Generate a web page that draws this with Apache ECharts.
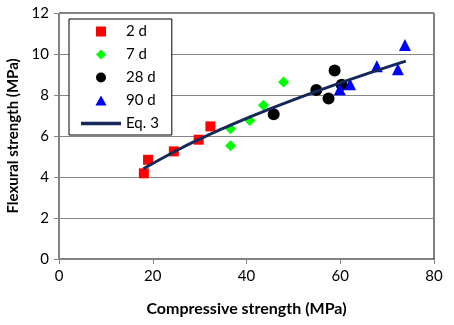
<!DOCTYPE html>
<html><head><meta charset="utf-8">
<script src="https://cdn.jsdelivr.net/npm/echarts@6/dist/echarts.min.js"></script>
<style>html,body{margin:0;padding:0;background:#fff}#c{width:454px;height:325px}</style>
</head><body><div id="c"></div>
<script>
const d2 = [[18.1,4.18],[19.0,4.84],[24.5,5.25],[29.8,5.82],[32.3,6.47]];
const d7 = [[36.6,6.35],[36.6,5.52],[40.7,6.76],[43.6,7.5],[47.9,8.64]];
const d28 = [[45.8,7.06],[54.9,8.24],[57.5,7.83],[58.8,9.2],[60.3,8.5]];
const d90 = [[59.9,8.28],[62.1,8.53],[67.8,9.4],[72.3,9.26],[73.8,10.44]];
const eqX = [18,25,30,35,40,45,50,55,60,65,70,74];
const eqY = [4.40,5.28,5.85,6.37,6.86,7.32,7.76,8.18,8.59,8.98,9.36,9.65];
const xTicks = [0,20,40,60,80];
const yTicks = [0,2,4,6,8,10,12];

const font = 'Lato, "Open Sans", sans-serif';
const lineColor = '#14285a';
const chart = echarts.init(document.getElementById('c'), null, {renderer:'canvas'});
chart.setOption({
  animation:false,
  grid:{left:59,right:20,top:13,bottom:66,show:true,borderColor:'#000',borderWidth:1,
    containLabel:false,outerBoundsMode:'none'},
  xAxis:{type:'value',min:xTicks[0],max:xTicks[xTicks.length-1],interval:20,
    name:'Compressive strength (MPa)',nameLocation:'middle',nameGap:42,
    nameTextStyle:{fontFamily:font,fontWeight:'bold',fontSize:16,color:'#000'},
    axisLine:{show:true,lineStyle:{color:'#868686'}},
    axisTick:{show:true,length:5,lineStyle:{color:'#868686'}},
    axisLabel:{fontFamily:font,fontSize:15,color:'#000',margin:10},
    splitLine:{show:false}},
  yAxis:{type:'value',min:yTicks[0],max:yTicks[yTicks.length-1],interval:2,
    name:'Flexural strength (MPa)',nameLocation:'middle',nameGap:38,
    nameTextStyle:{fontFamily:font,fontWeight:'bold',fontSize:15,color:'#000'},
    axisLine:{show:true,lineStyle:{color:'#868686'}},
    axisTick:{show:true,length:5,lineStyle:{color:'#868686'}},
    axisLabel:{fontFamily:font,fontSize:15,color:'#000',margin:10},
    splitLine:{show:true,lineStyle:{color:'#868686',width:1}}},
  legend:{orient:'vertical',left:69,top:19,itemWidth:40,itemHeight:10,itemGap:8,itemTextGap:3,
    symbolKeepAspect:true,
    padding:[5,13,4,12],borderColor:'#000',borderWidth:1,backgroundColor:'#fff',
    textStyle:{fontFamily:font,fontSize:15,color:'#000'},
    data:[
      {name:'2 d',icon:'path://M0,0H10V10H0Z'},
      {name:'7 d',icon:'path://M5,0L10,5L5,10L0,5Z'},
      {name:'28 d',icon:'circle'},
      {name:'90 d',icon:'path://M5,0L10,9H0Z'},
      {name:'Eq. 3',icon:'path://M0,0H40V3.5H0Z',itemStyle:{color:lineColor}}]},
  series:[
    {name:'2 d',type:'scatter',symbol:'rect',symbolSize:10,itemStyle:{color:'#ff0000',opacity:1},data:d2},
    {name:'7 d',type:'scatter',symbol:'diamond',symbolSize:11,itemStyle:{color:'#00ff00',opacity:1},data:d7},
    {name:'28 d',type:'scatter',symbol:'circle',symbolSize:12,itemStyle:{color:'#000',opacity:1},data:d28},
    {name:'90 d',type:'scatter',symbol:'triangle',symbolSize:12,itemStyle:{color:'#0000ff',opacity:1},data:d90},
    {name:'Eq. 3',type:'line',smooth:true,showSymbol:false,symbol:'none',z:5,
      lineStyle:{color:lineColor,width:3},itemStyle:{color:lineColor},
      data:eqX.map((x,i)=>[x,eqY[i]])}
  ]
});
</script></body></html>
